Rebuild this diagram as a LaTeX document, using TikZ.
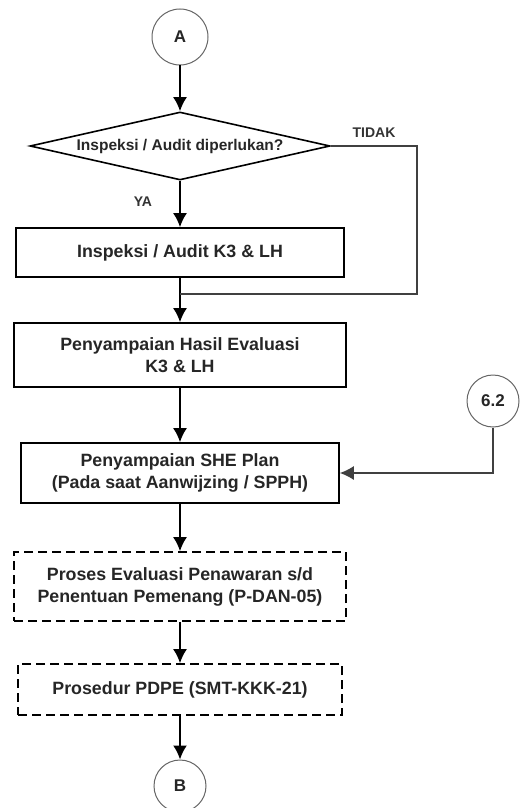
\documentclass[tikz,border=0pt]{standalone}
\usepackage{fontspec}
\setmainfont{Liberation Sans}
\usepackage{tikz}
\usetikzlibrary{arrows.meta}
\usetikzlibrary{shapes.geometric}

\begin{document}
\begin{tikzpicture}[
	x=1pt, y=-1pt,
	MyBox/.style={draw=black, line width=1.6pt, rectangle, inner sep=0pt, align=center,
		font=\fontsize{17.8}{22}\selectfont\bfseries, text=black!85},
	MyDashBox/.style={MyBox, dash pattern=on 9pt off 5pt},
	MyConn/.style={draw=black!60, line width=1pt, circle, inner sep=0pt,
		font=\fontsize{17}{18}\selectfont\bfseries, text=black!85},
	MyArrow/.style={draw=black, line width=2pt, -{Latex[length=14pt, width=14pt]}},
	MyLine/.style={draw=black!75, line width=1.5pt},
	MyLabel/.style={font=\fontsize{14}{16}\selectfont\bfseries, text=black!80, inner sep=0pt}
	]
	\useasboundingbox (0,0) rectangle (521,808);
	
	% connectors and boxes
	\node[MyConn, minimum size=56pt] (A) at (180,37) {A};
	
	\node[draw=black, line width=1.6pt, diamond, aspect=4.4, inner sep=0pt,
		minimum width=300pt, minimum height=68pt,
		font=\fontsize{15.5}{18}\selectfont\bfseries, text=black!85]
		(cek) at (180,146) {Inspeksi / Audit diperlukan?};
	
	\node[MyBox, minimum width=328pt, minimum height=49pt] (inspeksi) at (180,252.5)
		{Inspeksi / Audit K3 \& LH};
	
	\node[MyBox, minimum width=332pt, minimum height=64pt] (hasil) at (180,355)
		{Penyampaian Hasil Evaluasi\\K3 \& LH};
	
	\node[MyBox, minimum width=318pt, minimum height=60pt] (sheplan) at (180,473)
		{Penyampaian SHE Plan\\(Pada saat Aanwijzing / SPPH)};
	
	\node[MyConn, minimum size=52pt] (c62) at (493,401) {6.2};
	
	\node[MyDashBox, minimum width=332pt, minimum height=69pt] (evaluasi) at (180,586.5)
		{Proses Evaluasi Penawaran s/d\\Penentuan Pemenang (P-DAN-05)};
	
	\node[MyDashBox, minimum width=324pt, minimum height=51pt] (pdpe) at (180,689.5)
		{Prosedur PDPE (SMT-KKK-21)};
	
	\node[MyConn, minimum size=52pt] (B) at (180,786) {B};
	
	% labels
	\node[MyLabel] (ya) at (143,202) {YA};
	\node[MyLabel] (tidak) at (374,133) {TIDAK};
	
	% flow
	\coordinate (sudut) at (417,294);
	\coordinate (gabung) at (180,294);
	
	\draw[MyArrow] (A) -- (cek.north);
	\draw[MyArrow] (cek.south) -- (inspeksi.north);
	\draw[MyArrow] (inspeksi.south) -- (hasil.north);
	\draw[MyLine] (cek.east) -| (sudut) -- (gabung);
	\draw[MyArrow] (hasil.south) -- (sheplan.north);
	\draw[MyLine, -{Latex[length=14pt, width=14pt]}] (c62.south) |- (sheplan.east);
	\draw[MyArrow] (sheplan.south) -- (evaluasi.north);
	\draw[MyArrow] (evaluasi.south) -- (pdpe.north);
	\draw[MyArrow] (pdpe.south) -- (B.north);
	
\end{tikzpicture}
\end{document}
